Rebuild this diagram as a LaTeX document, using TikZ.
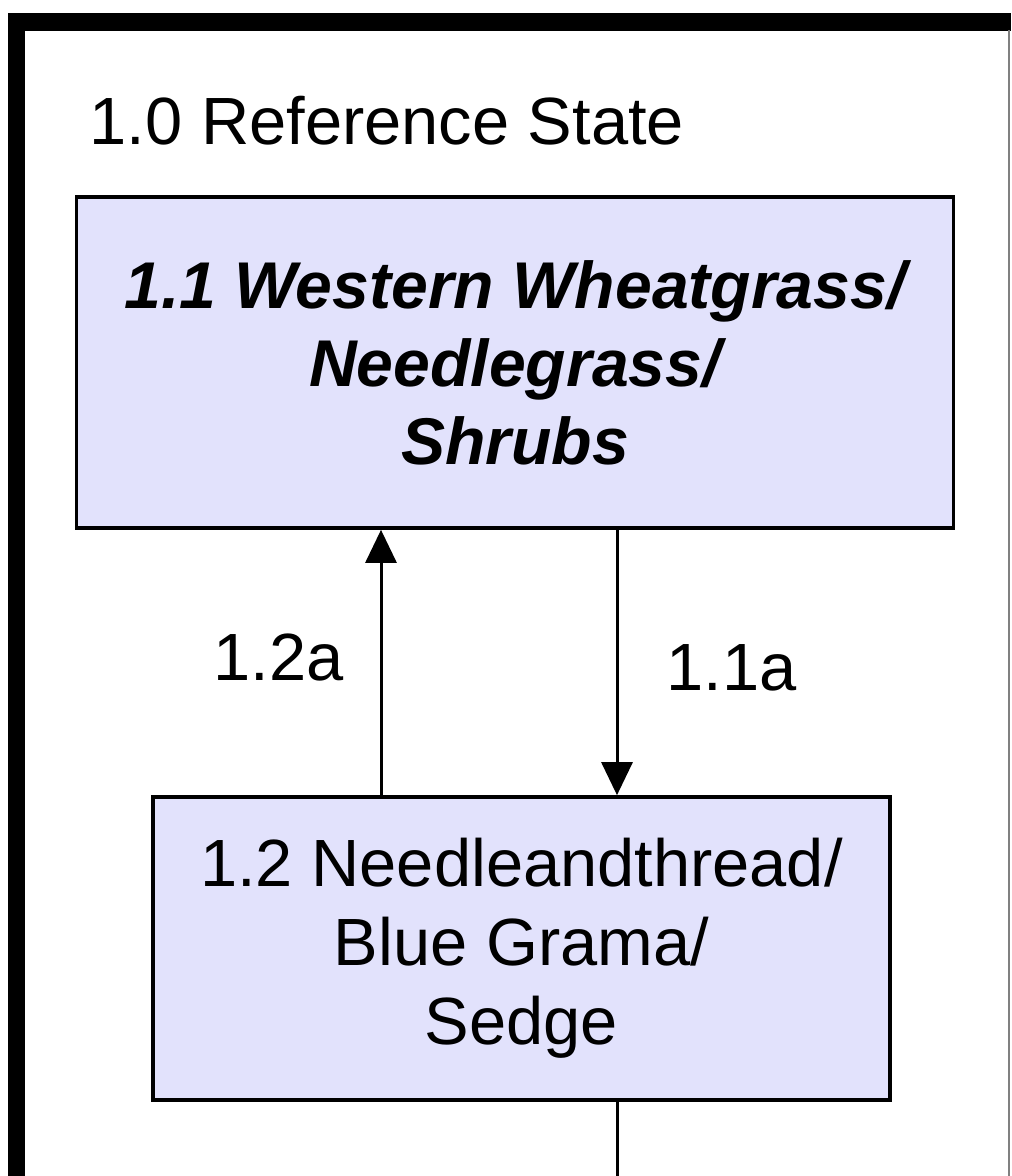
\documentclass[tikz,border=0pt]{standalone}
\usepackage{fontspec}
\setmainfont{Liberation Sans}
\usetikzlibrary{arrows.meta,positioning}
\definecolor{lav}{RGB}{226,226,252}
\tikzset{sb/.append style={draw,fill=lav,line width=0.035cm,align=center,inner sep=0pt,font=\fontsize{19}{22.5}\selectfont}}
\tikzset{sbb/.append style={font=\fontsize{18.8}{22.2}\selectfont\bfseries\itshape}}
\tikzset{tr/.append style={line width=0.03cm,-{Triangle[length=0.33cm,width=0.31cm]}}}
\tikzset{lb/.append style={font=\fontsize{19}{22.5}\selectfont,inner sep=0pt}}

\begin{document}
\begin{tikzpicture}[x=0.01cm,y=-0.01cm]
                \useasboundingbox (0,0) rectangle (1011,1176);
                % frame
                \draw[line width=0.17cm] (16.5,1176) -- (16.5,22) -- (1011,22);
                \draw[gray,line width=0.02cm] (1009,30) -- (1009,1176);
                \node[lb,anchor=base west] (ttl) at (89,145) {1.0 Reference State};
                % states
                \node[sb,sbb,minimum width=8.76cm,minimum height=3.31cm] (a) at (515,362.5) {1.1 Western Wheatgrass/\\Needlegrass/\\Shrubs};
                \node[sb,minimum width=7.37cm,minimum height=3.03cm] (b) at (521.5,948.5) {1.2 Needleandthread/\\Blue Grama/\\Sedge};
                \coordinate (ua) at (381,0);
                \coordinate (da) at (617,0);
                \coordinate (z) at (617,1176);
                \path (b.north -| ua) edge[tr] node[lb,left=0.36cm,pos=0.52]{1.2a} (a.south -| ua);
                \path (a.south -| da) edge[tr] node[lb,right=0.48cm,pos=0.52]{1.1a} (b.north -| da);
                \draw[line width=0.03cm] (b.south -| da) -- (z);
\end{tikzpicture}
\end{document}
